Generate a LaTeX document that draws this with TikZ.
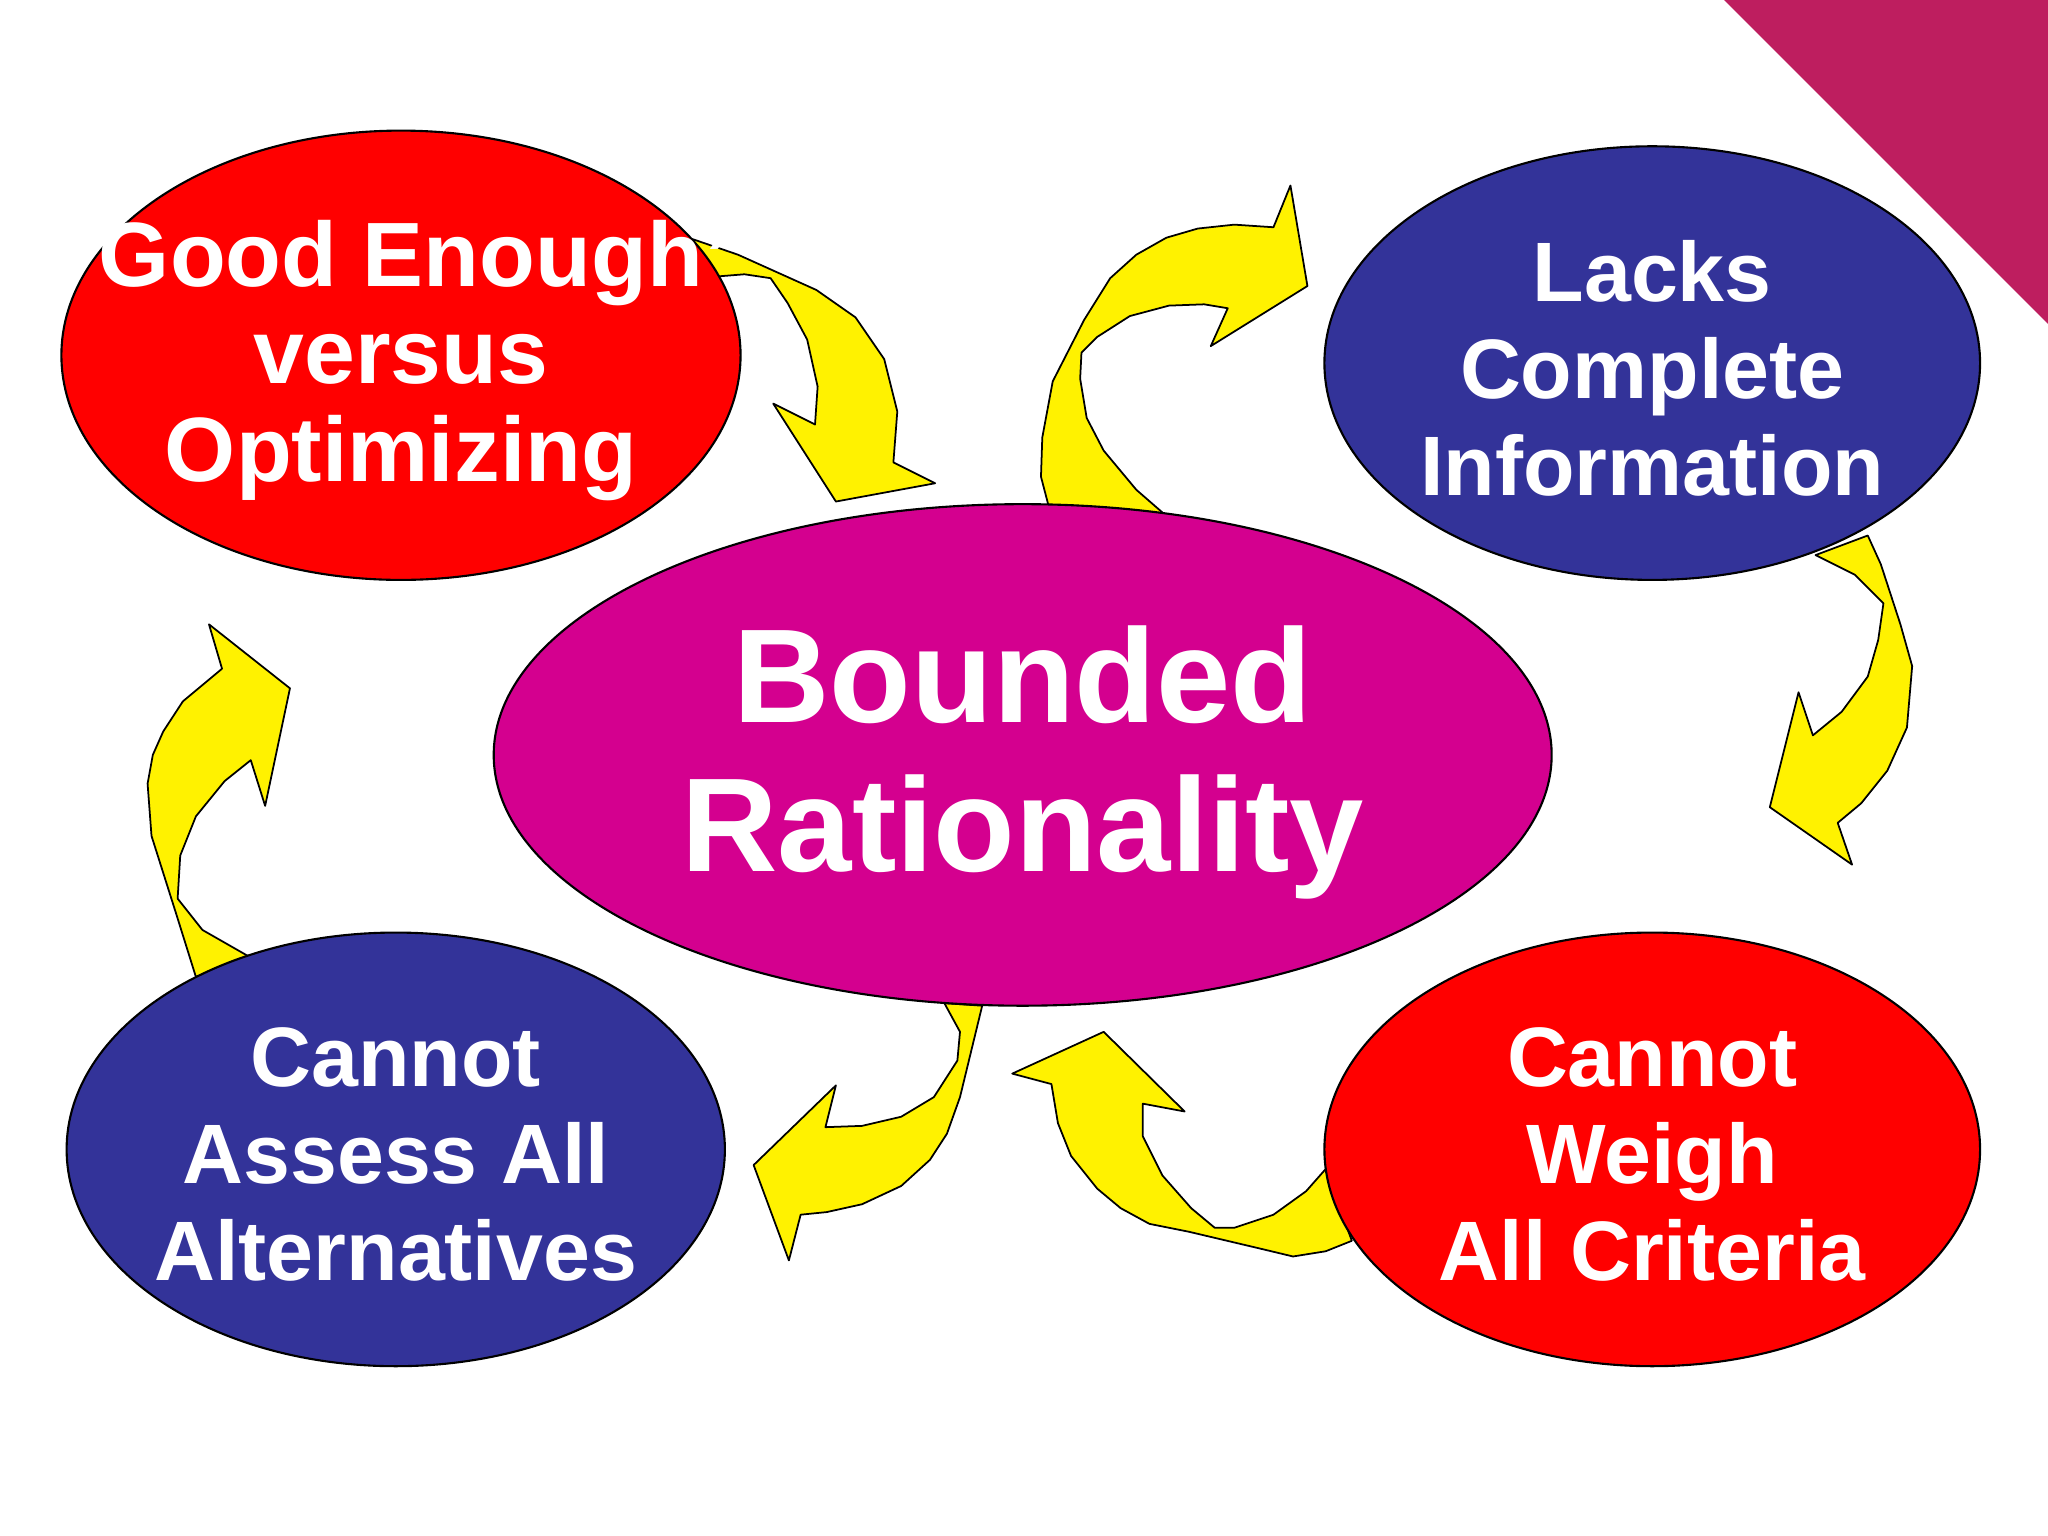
\documentclass[tikz,border=0pt]{standalone}
\usepackage{fontspec}
\setmainfont{Liberation Sans}
\definecolor{rd}{HTML}{FF0000}
\definecolor{bl}{HTML}{333399}
\definecolor{mg}{HTML}{D4008F}
\definecolor{cr}{HTML}{BE1E5F}
\begin{document}
\begin{tikzpicture}[x=0.013061cm,y=-0.013061cm,
  arr/.style={fill=yellow,draw=black,line width=0.5pt,line join=round},
  ell/.style={draw=black,line width=0.6pt},
  txt/.style={text=white,font=\bfseries\fontsize{24}{27.5}\selectfont,align=center}]
\useasboundingbox (0,0) rectangle (1568,1176);
\fill[white] (0,0) rectangle (1568,1176);
\fill[cr] (1320,0) -- (1568,0) -- (1568,248) -- cycle;
% arrows
\draw[arr] (530,183)--(565,195)--(625,222)--(655,243)--(677,275)--(687,315)--(684,354)--(716,370)--(640,384)--(592,309)--(624,325)--(626,296)--(618,260)--(603,232)--(590,213)--(570,210)--(545,212)--cycle;
\draw[arr] (803,388)--(797,365)--(798,335)--(806,292)--(830,245)--(850,213)--(870,195)--(893,182)--(917,175)--(945,172)--(975,174)--(988,142)--(1001,219)--(927,265)--(940,236)--(922,233)--(895,234)--(865,242)--(840,258)--(828,270)--(827,290)--(832,320)--(845,345)--(870,375)--(893,395)--cycle;
\draw[arr] (1390,425)--(1420,440)--(1442,462)--(1438,490)--(1430,518)--(1410,545)--(1388,563)--(1377,530)--(1355,618)--(1418,662)--(1407,630)--(1425,615)--(1445,590)--(1460,557)--(1464,510)--(1455,478)--(1440,432)--(1430,410)--cycle;
\draw[arr] (1015,895)--(1000,912)--(975,930)--(945,940)--(930,940)--(912,925)--(890,900)--(875,870)--(875,845)--(907,851)--(845,790)--(775,822)--(805,830)--(810,860)--(820,885)--(840,910)--(858,925)--(880,937)--(910,943)--(965,956)--(990,962)--(1015,958)--(1035,950)--cycle;
\draw[arr] (723,768)--(735,790)--(733,812)--(715,840)--(690,855)--(660,862)--(632,863)--(640,831)--(577,892)--(604,965)--(613,930)--(633,928)--(660,922)--(690,908)--(712,888)--(725,868)--(735,840)--(752,770)--cycle;
\draw[arr] (150,748)--(135,700)--(116,640)--(113,600)--(117,578)--(125,560)--(140,537)--(170,512)--(160,478)--(222,527)--(203,617)--(192,582)--(172,598)--(150,625)--(138,655)--(136,688)--(155,712)--(190,732)--cycle;
% ellipses
\draw[ell,fill=rd] (307,272) ellipse [x radius=260,y radius=172];
\draw[ell,fill=bl] (1265,278) ellipse [x radius=251,y radius=166];
\draw[ell,fill=mg] (783,578) ellipse [x radius=405,y radius=192];
\draw[ell,fill=bl] (303,880) ellipse [x radius=252,y radius=166];
\draw[ell,fill=rd] (1265,880) ellipse [x radius=251,y radius=166];
% texts
\node[txt,font=\bfseries\fontsize{26}{27.7}\selectfont] (g) at (307,276) {“Good Enough”\\versus\\Optimizing};
\node[txt] (l) at (1265,282) {Lacks\\Complete\\Information};
\node[txt,font=\bfseries\fontsize{38}{42.5}\selectfont] (b) at (783,584) {Bounded\\Rationality};
\node[txt] (a) at (303,884) {Cannot\\Assess All\\Alternatives};
\node[txt] (w) at (1265,884) {Cannot\\Weigh\\All Criteria};
\end{tikzpicture}
\end{document}
